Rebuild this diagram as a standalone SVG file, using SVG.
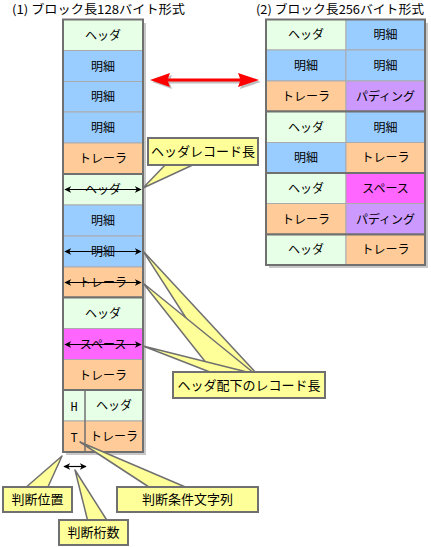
<svg xmlns="http://www.w3.org/2000/svg" width="431" height="547" viewBox="0 0 431 547">
<style>
text{font-family:"Noto Sans CJK JP","Noto Sans",sans-serif;fill:#000;}
.t{font-size:12px;text-anchor:middle;}
.ti{font-size:12px;}
.c{font-size:13px;text-anchor:middle;}
.hd{fill:#E6FFE6;}
.mx{fill:#99CCFF;}
.tr{fill:#FFCC99;}
.sp{fill:#FF66FF;}
.pd{fill:#CC99FF;}
.cell rect{stroke:#ABABAB;stroke-width:1;}
.cell rect.blk{fill:none;stroke:#707070;stroke-width:2;}
.shd{fill:#C8C8C8;}
.cb{fill:#FFFF99;stroke:#707070;stroke-width:2;}
.cw{fill:#FFFF99;stroke:#707070;stroke-width:1.5;stroke-linejoin:round;}
.ba{stroke:#000;stroke-width:1.2;marker-start:url(#ah);marker-end:url(#ah);}
</style>
<defs>
<marker id="ah" viewBox="0 0 10 10" refX="9" refY="5" markerWidth="7" markerHeight="7" markerUnits="userSpaceOnUse" orient="auto-start-reverse">
<path d="M0,0 L10,5 L0,10 L3,5 Z" fill="#000"/>
</marker>
</defs>

<text class="ti" x="12" y="14" textLength="173" lengthAdjust="spacingAndGlyphs">(1) ブロック長128バイト形式</text>
<text class="ti" x="256" y="14" textLength="168" lengthAdjust="spacingAndGlyphs">(2) ブロック長256バイト形式</text>

<!-- left column shadow -->
<rect class="shd" x="66" y="23" width="80" height="432"/>

<g id="left-block1" class="cell">
<rect class="hd" x="63" y="19.5" width="80" height="31"/><text class="t" x="103" y="39.5">ヘッダ</text>
<rect class="mx" x="63" y="50.5" width="80" height="31"/><text class="t" x="103" y="70.5">明細</text>
<rect class="mx" x="63" y="81.5" width="80" height="30.5"/><text class="t" x="103" y="101">明細</text>
<rect class="mx" x="63" y="112" width="80" height="31"/><text class="t" x="103" y="132">明細</text>
<rect class="tr" x="63" y="143" width="80" height="31"/><text class="t" x="103" y="163">トレーラ</text>
<rect class="blk" x="63" y="19.5" width="80" height="154.5"/>
</g>
<g id="left-block2" class="cell">
<rect class="hd" x="63" y="174" width="80" height="31"/><text class="t" x="103" y="194">ヘッダ</text>
<rect class="mx" x="63" y="205" width="80" height="31"/><text class="t" x="103" y="225">明細</text>
<rect class="mx" x="63" y="236" width="80" height="31"/><text class="t" x="103" y="256">明細</text>
<rect class="tr" x="63" y="267" width="80" height="30.5"/><text class="t" x="103" y="287">トレーラ</text>
<rect class="blk" x="63" y="174" width="80" height="123.5"/>
</g>
<g id="left-block3" class="cell">
<rect class="hd" x="63" y="297.5" width="80" height="31"/><text class="t" x="103" y="317.5">ヘッダ</text>
<rect class="sp" x="63" y="328.5" width="80" height="31"/><text class="t" x="103" y="348.5">スペース</text>
<rect class="tr" x="63" y="359.5" width="80" height="30.5"/><text class="t" x="103" y="379.5">トレーラ</text>
<rect class="blk" x="63" y="297.5" width="80" height="92.5"/>
</g>
<g id="left-block4" class="cell">
<rect class="hd" x="63" y="390" width="80" height="31"/>
<rect class="tr" x="63" y="421" width="80" height="31"/>
<line x1="85" y1="390" x2="85" y2="452" stroke="#707070" stroke-width="1.5"/>
<text class="t" x="74" y="410.5" style="font-family:'Liberation Mono',monospace">H</text>
<text class="t" x="114" y="410">ヘッダ</text>
<text class="t" x="74" y="441.5" style="font-family:'Liberation Mono',monospace">T</text>
<text class="t" x="114" y="441">トレーラ</text>
<rect class="blk" x="63" y="390" width="80" height="62"/>
</g>

<!-- right column -->
<rect class="shd" x="269" y="23" width="159" height="245"/>
<g id="right-block1" class="cell">
<rect class="hd" x="266" y="19.5" width="80" height="30.5"/><text class="t" x="306" y="39">ヘッダ</text>
<rect class="mx" x="346" y="19.5" width="79" height="30.5"/><text class="t" x="385.5" y="39">明細</text>
<rect class="mx" x="266" y="50" width="80" height="31"/><text class="t" x="306" y="70">明細</text>
<rect class="mx" x="346" y="50" width="79" height="31"/><text class="t" x="385.5" y="70">明細</text>
<rect class="tr" x="266" y="81" width="80" height="30.5"/><text class="t" x="306" y="100.5">トレーラ</text>
<rect class="pd" x="346" y="81" width="79" height="30.5"/><text class="t" x="385.5" y="100.5">パディング</text>
<rect class="blk" x="266" y="19.5" width="159" height="92"/>
</g>
<g id="right-block2" class="cell">
<rect class="hd" x="266" y="111.5" width="80" height="31"/><text class="t" x="306" y="131.5">ヘッダ</text>
<rect class="mx" x="346" y="111.5" width="79" height="31"/><text class="t" x="385.5" y="131.5">明細</text>
<rect class="mx" x="266" y="142.5" width="80" height="30.5"/><text class="t" x="306" y="162">明細</text>
<rect class="tr" x="346" y="142.5" width="79" height="30.5"/><text class="t" x="385.5" y="162">トレーラ</text>
<rect class="blk" x="266" y="111.5" width="159" height="61.5"/>
</g>
<g id="right-block3" class="cell">
<rect class="hd" x="266" y="173" width="80" height="30.5"/><text class="t" x="306" y="192.5">ヘッダ</text>
<rect class="sp" x="346" y="173" width="79" height="30.5"/><text class="t" x="385.5" y="192.5">スペース</text>
<rect class="tr" x="266" y="203.5" width="80" height="31"/><text class="t" x="306" y="223.5">トレーラ</text>
<rect class="pd" x="346" y="203.5" width="79" height="31"/><text class="t" x="385.5" y="223.5">パディング</text>
<rect class="blk" x="266" y="173" width="159" height="61.5"/>
</g>
<g id="right-block4" class="cell">
<rect class="hd" x="266" y="234.5" width="80" height="30.5"/><text class="t" x="306" y="254">ヘッダ</text>
<rect class="tr" x="346" y="234.5" width="79" height="30.5"/><text class="t" x="385.5" y="254">トレーラ</text>
<rect class="blk" x="266" y="234.5" width="159" height="30.5"/>
</g>

<g id="connectors">
<!-- red double arrow with shadow -->
<g transform="translate(2,2)" fill="#C0C0C0">
<polygon points="150,80 170,73 168,78.5 240,78.5 238,73 259,80 238,87 240,81.5 168,81.5 170,87"/>
</g>
<polygon points="150,80 170,73 168,78.5 240,78.5 238,73 259,80 238,87 240,81.5 168,81.5 170,87" fill="#FF0000"/>
<!-- length arrows in left column -->
<line class="ba" x1="65" y1="189.5" x2="141" y2="189.5"/>
<line class="ba" x1="65" y1="251.5" x2="141" y2="251.5"/>
<line class="ba" x1="65" y1="282.5" x2="141" y2="282.5"/>
<line class="ba" x1="65" y1="344.5" x2="141" y2="344.5"/>
<line class="ba" x1="64" y1="466.5" x2="86" y2="466.5"/>
</g>

<g id="callout-header-len">
<polygon class="cw" points="143,188 167,163 197,163"/>
<rect class="cb" x="148" y="138" width="110" height="27"/>
<text class="c" x="203" y="156">ヘッダレコード長</text>
</g>

<g id="callout-sub-len">
<polygon class="cw" points="143,251 222,374 257,374"/>
<polygon class="cw" points="143,283 215,374 255,374"/>
<polygon class="cw" points="143,346 215,374 255,374"/>
<rect class="cb" x="173" y="372" width="152" height="26"/>
<text class="c" x="249" y="390">ヘッダ配下のレコード長</text>
</g>

<g id="callout-pos">
<polygon class="cw" points="62,456 24,489 47,489"/>
<rect class="cb" x="3" y="487" width="69" height="25"/>
<text class="c" x="37.5" y="504">判断位置</text>
</g>

<g id="callout-digits">
<polygon class="cw" points="75,470 88,522 108,522"/>
<rect class="cb" x="59" y="520" width="69" height="25"/>
<text class="c" x="93.5" y="537">判断桁数</text>
</g>

<g id="callout-cond">
<polygon class="cw" points="80,442 152,489 190,489"/>
<rect class="cb" x="117" y="487" width="141" height="25"/>
<text class="c" x="187.5" y="504">判断条件文字列</text>
</g>
</svg>
